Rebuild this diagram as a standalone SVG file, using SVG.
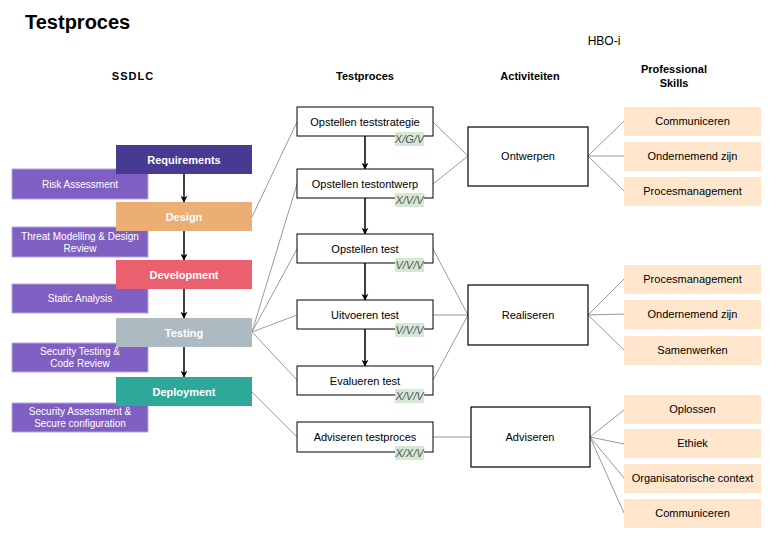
<svg xmlns="http://www.w3.org/2000/svg" width="779" height="553" viewBox="0 0 779 553">
<defs>
<marker id="ah" viewBox="0 0 10 10" refX="9" refY="5" markerWidth="7" markerHeight="7" orient="auto" markerUnits="userSpaceOnUse">
<path d="M0,0 L10,5 L0,10 L3,5 Z" fill="#000"/>
</marker>
</defs>
<style>
text{font-family:"Liberation Sans",Arial,sans-serif;}
.title{font-size:20px;font-weight:bold;fill:#000;}
.hdr{font-size:11px;font-weight:bold;fill:#000;text-anchor:middle;}
.main text{font-size:11px;font-weight:bold;fill:#fff;text-anchor:middle;}
.side rect{fill:#7f5fc2;stroke:#b8a6e0;stroke-width:1;}
.side text{font-size:10px;fill:#fff;text-anchor:middle;}
.tp rect.b{fill:#fff;stroke:#000;stroke-width:1;}
.tp text{font-size:11px;fill:#000;text-anchor:middle;}
.tp rect.lbl{fill:#d5e8d4;stroke:none;}
.tp text.lbl{font-size:11px;font-style:italic;fill:#555;}
.act rect{fill:#fff;stroke:#000;stroke-width:1.2;}
.act text{font-size:11px;fill:#000;text-anchor:middle;}
.sk rect{fill:#ffe6cc;stroke:none;}
.sk text{font-size:11px;fill:#000;text-anchor:middle;}
.c{stroke:#9a9a9a;stroke-width:1;fill:none;}
.cl{stroke:#c8c8c8;stroke-width:2;fill:none;}
.ar{stroke:#000;stroke-width:1.5;fill:none;marker-end:url(#ah);}
</style>
<rect width="779" height="553" fill="#fff"/>
<text class="title" x="25" y="29">Testproces</text>
<text class="hdr" x="133" y="80" style="letter-spacing:1px">SSDLC</text>
<text class="hdr" x="365" y="80">Testproces</text>
<text class="hdr" x="530" y="80">Activiteiten</text>
<text class="hdr" x="674" y="73">Professional</text>
<text class="hdr" x="674" y="87">Skills</text>
<text x="604" y="45" style="font-size:12px;text-anchor:middle;fill:#000">HBO-i</text>

<g id="connectors">
<line class="ar" x1="184" y1="174" x2="184" y2="202"/>
<line class="ar" x1="184" y1="231" x2="184" y2="260"/>
<line class="ar" x1="184" y1="289" x2="184" y2="318"/>
<line class="ar" x1="184" y1="347" x2="184" y2="377"/>
<line class="ar" x1="365" y1="136" x2="365" y2="169"/>
<line class="ar" x1="365" y1="198" x2="365" y2="234"/>
<line class="ar" x1="365" y1="263" x2="365" y2="300"/>
<line class="ar" x1="365" y1="329" x2="365" y2="366"/>
<line class="c" x1="252" y1="217" x2="297" y2="122"/>
<line class="c" x1="252" y1="332" x2="297" y2="184"/>
<line class="c" x1="252" y1="332" x2="297" y2="249"/>
<line class="c" x1="252" y1="332" x2="297" y2="315"/>
<line class="c" x1="252" y1="332" x2="297" y2="380"/>
<line class="c" x1="252" y1="392" x2="297" y2="437"/>
<line class="c" x1="433" y1="122" x2="468" y2="156"/>
<line class="c" x1="433" y1="184" x2="468" y2="156"/>
<line class="c" x1="433" y1="249" x2="468" y2="315"/>
<line class="cl" x1="433" y1="315" x2="468" y2="315"/>
<line class="c" x1="433" y1="380" x2="468" y2="315"/>
<line class="cl" x1="433" y1="437" x2="471" y2="437"/>
<line class="c" x1="588" y1="156" x2="624" y2="121"/>
<line class="c" x1="588" y1="156" x2="624" y2="156"/>
<line class="c" x1="588" y1="156" x2="624" y2="191"/>
<line class="c" x1="588" y1="315" x2="624" y2="279"/>
<line class="c" x1="588" y1="315" x2="624" y2="314"/>
<line class="c" x1="588" y1="315" x2="624" y2="350"/>
<line class="c" x1="590" y1="437" x2="624" y2="410"/>
<line class="c" x1="590" y1="437" x2="624" y2="444"/>
<line class="c" x1="590" y1="437" x2="624" y2="478"/>
<line class="c" x1="590" y1="437" x2="624" y2="513"/>
</g>

<g id="side-risk" class="side"><rect x="12" y="169" width="136" height="30"/><text x="80" y="188">Risk Assessment</text></g>
<g id="side-threat" class="side"><rect x="12" y="227" width="136" height="30"/><text x="80" y="240">Threat Modelling &amp; Design</text><text x="80" y="252">Review</text></g>
<g id="side-static" class="side"><rect x="12" y="284" width="136" height="29"/><text x="80" y="302">Static Analysis</text></g>
<g id="side-sectest" class="side"><rect x="12" y="343" width="136" height="29"/><text x="80" y="355">Security Testing &amp;</text><text x="80" y="367">Code Review</text></g>
<g id="side-secassess" class="side"><rect x="12" y="403" width="136" height="29"/><text x="80" y="415">Security Assessment &amp;</text><text x="80" y="427">Secure configuration</text></g>

<g id="requirements" class="main"><rect x="116" y="145" width="136" height="29" fill="#463a93"/><text x="184" y="163.5">Requirements</text></g>
<g id="design" class="main"><rect x="116" y="202" width="136" height="29" fill="#ebae75"/><text x="184" y="220.5">Design</text></g>
<g id="development" class="main"><rect x="116" y="260" width="136" height="29" fill="#ea606f"/><text x="184" y="278.5">Development</text></g>
<g id="testing" class="main"><rect x="116" y="318" width="136" height="29" fill="#adbac1"/><text x="184" y="336.5">Testing</text></g>
<g id="deployment" class="main"><rect x="116" y="377" width="136" height="29" fill="#2ea999"/><text x="184" y="395.5">Deployment</text></g>

<g id="tp-strategie" class="tp"><rect class="b" x="297" y="107" width="136" height="29"/><text x="365" y="125.5">Opstellen teststrategie</text><rect class="lbl" x="395" y="132" width="29" height="14"/><text class="lbl" x="409.5" y="143" text-anchor="middle">X/G/V</text></g>
<g id="tp-ontwerp" class="tp"><rect class="b" x="297" y="169" width="136" height="29"/><text x="365" y="187.5">Opstellen testontwerp</text><rect class="lbl" x="395" y="193" width="29" height="14"/><text class="lbl" x="409.5" y="204" text-anchor="middle">X/V/V</text></g>
<g id="tp-test" class="tp"><rect class="b" x="297" y="234" width="136" height="29"/><text x="365" y="252.5">Opstellen test</text><rect class="lbl" x="395" y="258" width="29" height="14"/><text class="lbl" x="409.5" y="269" text-anchor="middle">V/V/V</text></g>
<g id="tp-uitvoeren" class="tp"><rect class="b" x="297" y="300" width="136" height="29"/><text x="365" y="318.5">Uitvoeren test</text><rect class="lbl" x="395" y="323" width="29" height="14"/><text class="lbl" x="409.5" y="334" text-anchor="middle">V/V/V</text></g>
<g id="tp-evalueren" class="tp"><rect class="b" x="297" y="366" width="136" height="29"/><text x="365" y="384.5">Evalueren test</text><rect class="lbl" x="395" y="389" width="29" height="14"/><text class="lbl" x="409.5" y="400" text-anchor="middle">X/V/V</text></g>
<g id="tp-adviseren" class="tp"><rect class="b" x="297" y="422" width="136" height="30"/><text x="365" y="441">Adviseren testproces</text><rect class="lbl" x="395" y="446" width="29" height="14"/><text class="lbl" x="409.5" y="457" text-anchor="middle">X/X/V</text></g>

<g id="act-ontwerpen" class="act"><rect x="468" y="127" width="120" height="59"/><text x="528" y="160">Ontwerpen</text></g>
<g id="act-realiseren" class="act"><rect x="468" y="285" width="120" height="60"/><text x="528" y="319">Realiseren</text></g>
<g id="act-adviseren" class="act"><rect x="471" y="407" width="119" height="60"/><text x="530" y="441">Adviseren</text></g>

<g id="sk-communiceren1" class="sk"><rect x="624" y="107" width="137" height="29"/><text x="692.5" y="125">Communiceren</text></g>
<g id="sk-ondernemend1" class="sk"><rect x="624" y="142" width="137" height="29"/><text x="692.5" y="160">Ondernemend zijn</text></g>
<g id="sk-procesmanagement1" class="sk"><rect x="624" y="177" width="137" height="29"/><text x="692.5" y="195">Procesmanagement</text></g>
<g id="sk-procesmanagement2" class="sk"><rect x="624" y="265" width="137" height="29"/><text x="692.5" y="283">Procesmanagement</text></g>
<g id="sk-ondernemend2" class="sk"><rect x="624" y="300" width="137" height="29"/><text x="692.5" y="318">Ondernemend zijn</text></g>
<g id="sk-samenwerken" class="sk"><rect x="624" y="336" width="137" height="29"/><text x="692.5" y="354">Samenwerken</text></g>
<g id="sk-oplossen" class="sk"><rect x="624" y="395" width="137" height="29"/><text x="692.5" y="413">Oplossen</text></g>
<g id="sk-ethiek" class="sk"><rect x="624" y="429" width="137" height="29"/><text x="692.5" y="447">Ethiek</text></g>
<g id="sk-organisatorisch" class="sk"><rect x="624" y="464" width="137" height="29"/><text x="692.5" y="482">Organisatorische context</text></g>
<g id="sk-communiceren2" class="sk"><rect x="624" y="499" width="137" height="29"/><text x="692.5" y="517">Communiceren</text></g>
</svg>
